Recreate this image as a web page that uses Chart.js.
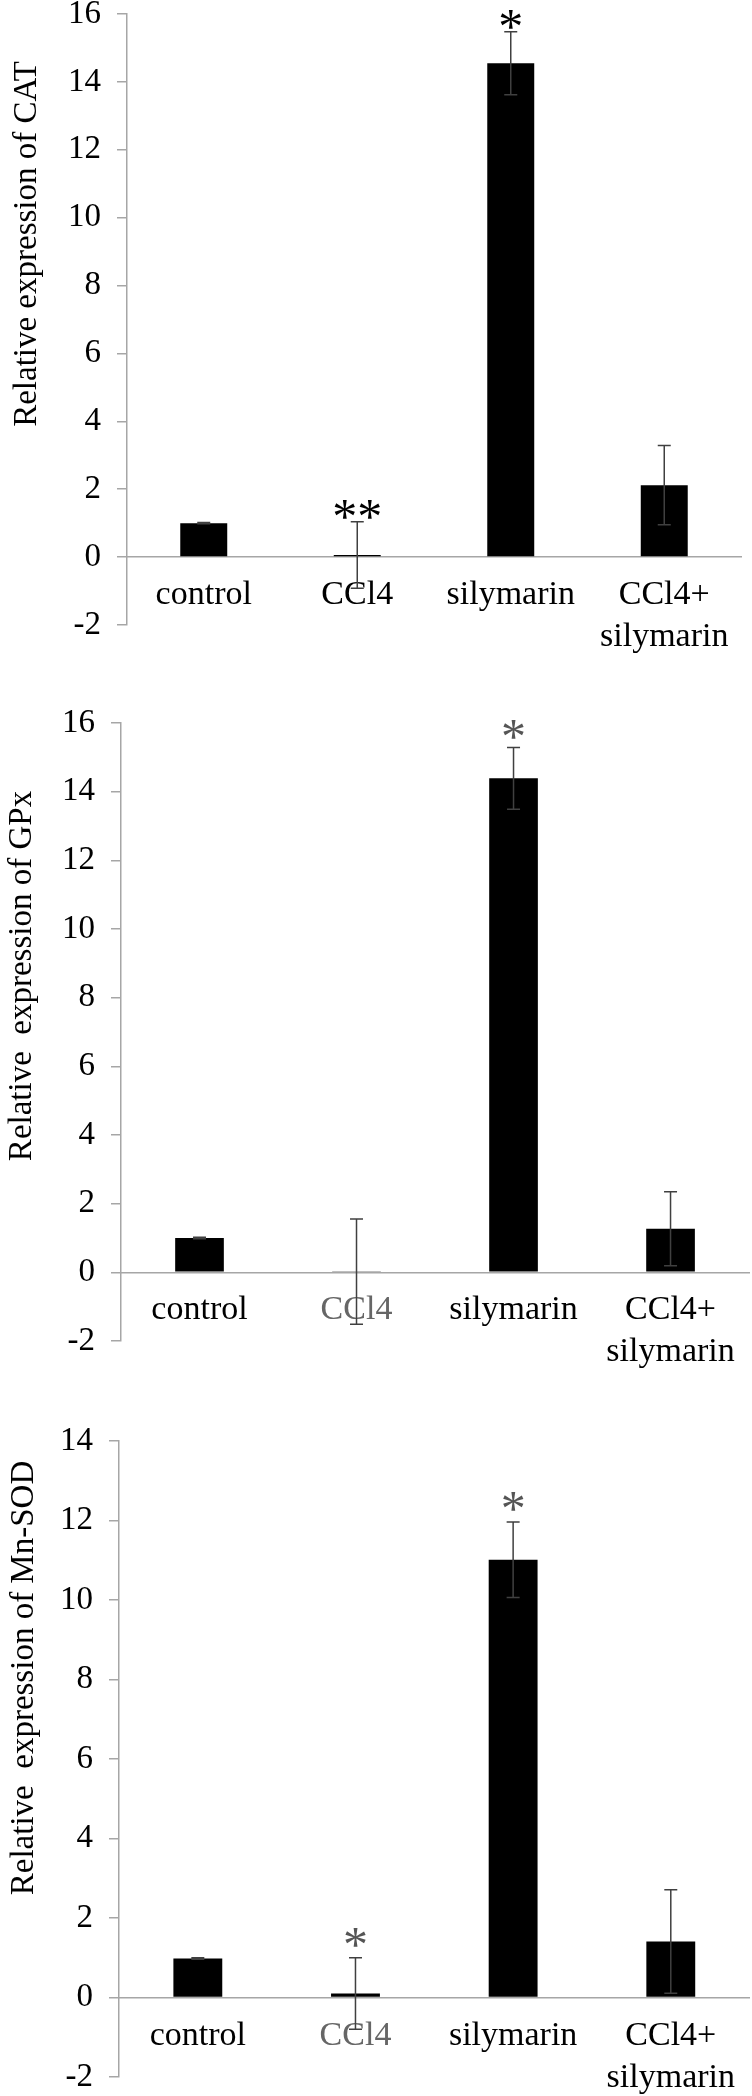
<!DOCTYPE html>
<html>
<head>
<meta charset="utf-8">
<script src="https://cdn.jsdelivr.net/npm/chart.js@4.4.0/dist/chart.umd.min.js"></script>
<style>
    html, body { margin: 0; padding: 0; background: #fff; }
    .panel { position: absolute; left: 0; width: 752px; }
</style>
</head>
<body>
<div class="panel" style="top:0;height:700px"><canvas id="catChart" width="752" height="700"></canvas></div>
<div class="panel" style="top:700px;height:700px"><canvas id="gpxChart" width="752" height="700"></canvas></div>
<div class="panel" style="top:1400px;height:696px"><canvas id="sodChart" width="752" height="696"></canvas></div>
<script>
var categories = ['control', 'CCl4', 'silymarin', ['CCl4+', 'silymarin']];

var catValues = [1.0, 0.06, 14.55, 2.12];
var catErrors = [0.02, 0.98, 0.93, 1.17];
var catMarks = ['', '**', '*', ''];

var gpxValues = [1.0, 0.02, 14.39, 1.27];
var gpxErrors = [0.02, 1.53, 0.9, 1.08];
var gpxMarks = ['', '', '*', ''];

var sodValues = [0.98, 0.1, 11.01, 1.41];
var sodErrors = [0.02, 0.9, 0.95, 1.3];
var sodMarks = ['', '*', '*', ''];

var yMin = -2;
var yStep = 2;
var catMax = 16, gpxMax = 16, sodMax = 14;

var serif = "'Times New Roman', 'Liberation Serif', serif";
var axisGray = '#a6a6a6';

function makeChart(id, values, errors, marks, yMax, title, look) {
    var ctx = document.getElementById(id).getContext('2d');

    var extras = {
        id: 'extras',
        afterDatasetsDraw: function (chart) {
            var c = chart.ctx, xs = chart.scales.x, ys = chart.scales.y;
            c.save();
            c.strokeStyle = '#404040';
            c.lineWidth = 1.5;
            for (var i = 0; i < values.length; i++) {
                var px = xs.getPixelForValue(i);
                var top = ys.getPixelForValue(values[i] + errors[i]);
                var bot = ys.getPixelForValue(values[i] - errors[i]);
                c.beginPath();
                c.moveTo(px, top); c.lineTo(px, bot);
                c.moveTo(px - 6.5, top); c.lineTo(px + 6.5, top);
                c.moveTo(px - 6.5, bot); c.lineTo(px + 6.5, bot);
                c.stroke();
                if (marks[i]) {
                    c.font = '50px ' + serif;
                    c.fillStyle = look.markColor;
                    c.textAlign = 'center';
                    c.textBaseline = 'alphabetic';
                    c.fillText(marks[i], px, top - look.markGap + 25);
                }
            }
            c.restore();
        },
        afterDraw: function (chart) {
            var c = chart.ctx;
            c.save();
            c.translate(look.titleX, look.titleY);
            c.rotate(-Math.PI / 2);
            c.font = '33px ' + serif;
            c.fillStyle = '#000';
            c.textAlign = 'center';
            c.textBaseline = 'middle';
            c.fillText(title, 0, 0);
            c.restore();
        }
    };

    return new Chart(ctx, {
        type: 'bar',
        data: {
            labels: categories,
            datasets: [{
                data: values,
                backgroundColor: '#000',
                borderWidth: 0,
                barPercentage: look.barPct,
                categoryPercentage: 1
            }]
        },
        options: {
            responsive: false,
            animation: false,
            layout: { padding: look.padding },
            plugins: { legend: { display: false }, tooltip: { enabled: false } },
            scales: {
                x: {
                    position: { y: 0 },
                    grid: { display: false, drawTicks: false },
                    border: { color: axisGray, width: 1.5 },
                    ticks: {
                        color: look.labelColors,
                        font: { family: serif, size: 34, lineHeight: 1.24 },
                        padding: 17,
                        maxRotation: 0,
                        autoSkip: false
                    }
                },
                y: {
                    min: yMin,
                    max: yMax,
                    grid: { drawOnChartArea: false, drawTicks: true, tickLength: 10, color: axisGray, lineWidth: 1.5 },
                    border: { color: axisGray, width: 1.5 },
                    ticks: {
                        stepSize: yStep,
                        color: '#000',
                        font: { family: serif, size: 33 },
                        padding: 16
                    },
                    afterFit: function (s) {
                        s.width = look.axisLeft;
                        s.paddingTop = 0;
                        s.paddingBottom = 0;
                    }
                }
            }
        },
        plugins: [extras]
    });
}

makeChart('catChart', catValues, catErrors, catMarks, catMax, 'Relative expression of CAT', {
    padding: { top: 14, bottom: 75, left: 0, right: 11 },
    axisLeft: 127,
    barPct: 0.306,
    labelColors: ['#000', '#000', '#000', '#000'],
    markColor: '#000',
    markGap: 14,
    titleX: 27,
    titleY: 244
});

makeChart('gpxChart', gpxValues, gpxErrors, gpxMarks, gpxMax, 'Relative  expression of GPx', {
    padding: { top: 23, bottom: 59, left: 0, right: 2 },
    axisLeft: 121,
    barPct: 0.31,
    labelColors: ['#000', '#666', '#000', '#000'],
    markColor: '#555',
    markGap: 19,
    titleX: 22,
    titleY: 276
});

makeChart('sodChart', sodValues, sodErrors, sodMarks, sodMax, 'Relative  expression of Mn-SOD', {
    padding: { top: 41, bottom: 19, left: 0, right: 0 },
    axisLeft: 119,
    barPct: 0.31,
    labelColors: ['#000', '#666', '#000', '#000'],
    markColor: '#555',
    markGap: 22,
    titleX: 24,
    titleY: 278
});
</script>
</body>
</html>
